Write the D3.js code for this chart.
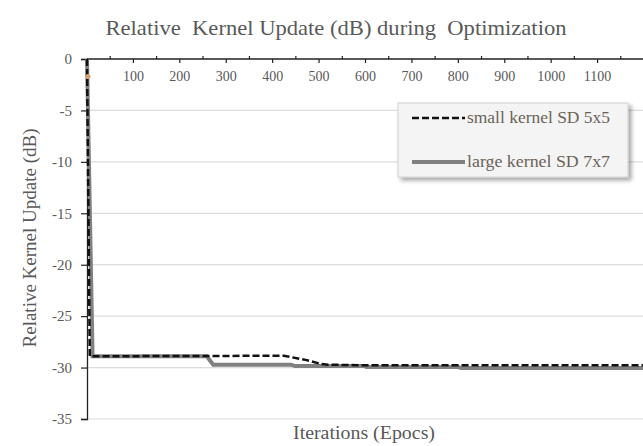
<!DOCTYPE html>
<html>
<head>
<meta charset="utf-8">
<script src="https://cdn.jsdelivr.net/npm/d3@7"></script>
<style>
  html, body { margin: 0; padding: 0; background: #fff; }
  svg { display: block; }
</style>
</head>
<body>
<svg id="chart" width="643" height="446" font-family="Liberation Serif"></svg>
<script>
// Relative kernel update (dB) per iteration for two kernel sizes
const smallIter = [0, 6, 424, 471, 504, 520, 600, 1200];
const smallDb   = [0, -28.9, -28.85, -29.25, -29.65, -29.72, -29.78, -29.78];
const largeIter = [0, 12, 258, 272, 440, 448, 598, 602, 800, 806, 1200];
const largeDb   = [0, -28.9, -28.9, -29.72, -29.72, -29.85, -29.85, -29.95, -29.95, -30.05, -30.05];
const startIter = [0];
const startDb   = [-1.7];

const xTicks = [100, 200, 300, 400, 500, 600, 700, 800, 900, 1000, 1100];
const yTicks = [0, -5, -10, -15, -20, -25, -30, -35];
const seriesNames = ["small kernel SD 5x5", "large kernel SD 7x7"];
const titleText = "Relative  Kernel Update (dB) during  Optimization";
const xTitle = "Iterations (Epocs)";
const yTitle = "Relative Kernel Update (dB)";

const serif = "Liberation Serif";
const textColor = "#595959";
const svg = d3.select("#chart");
const W = 643, H = 446;
const m = { left: 87, right: 0, top: 59, bottom: 27 };

const x = d3.scaleLinear().domain([0, 1200]).range([m.left, W - m.right + 1]);
const y = d3.scaleLinear().domain([0, -35]).range([m.top, H - m.bottom]);

// horizontal gridlines
svg.append("g")
  .selectAll("line")
  .data(yTicks.filter(d => d !== 0))
  .join("line")
  .attr("x1", m.left).attr("x2", W)
  .attr("y1", d => y(d)).attr("y2", d => y(d))
  .attr("stroke", "#dcdcdc").attr("stroke-width", 1.2);

// left axis
const yAxis = svg.append("g")
  .attr("transform", `translate(${m.left},0)`)
  .call(d3.axisLeft(y).tickValues(yTicks).tickSize(6).tickPadding(9).tickFormat(d => String(d)))
  .attr("font-family", serif)
  .attr("font-size", 15);
yAxis.select(".domain").attr("stroke", "#222").attr("stroke-width", 1.3);
yAxis.selectAll(".tick line").attr("stroke", "#222").attr("stroke-width", 1.2);
yAxis.selectAll("text").attr("fill", textColor);

// top axis at 0 dB with labels underneath
const xAxisG = svg.append("g")
  .attr("transform", `translate(0,${y(0)})`)
  .attr("font-family", serif);
xAxisG.append("line")
  .attr("x1", m.left).attr("x2", W)
  .attr("stroke", "#222").attr("stroke-width", 1.3);
const allTicks = d3.range(50, 1250, 50);
xAxisG.selectAll("line.tk")
  .data(allTicks)
  .join("line")
  .attr("class", "tk")
  .attr("x1", d => x(d)).attr("x2", d => x(d))
  .attr("y1", d => d % 100 === 0 ? 0 : -3)
  .attr("y2", d => d % 100 === 0 ? 4 : 0)
  .attr("stroke", "#222").attr("stroke-width", 1.2);
xAxisG.selectAll("text")
  .data(xTicks)
  .join("text")
  .attr("x", d => x(d))
  .attr("y", 22)
  .attr("text-anchor", "middle")
  .attr("font-size", 14)
  .attr("fill", textColor)
  .text(d => d);

// series lines
const line = d3.line().x(d => x(d[0])).y(d => y(d[1]));
const largeData = largeIter.map((v, i) => [v, largeDb[i]]);
const smallData = smallIter.map((v, i) => [v, smallDb[i]]);

svg.append("path")
  .datum(largeData)
  .attr("d", line)
  .attr("fill", "none")
  .attr("stroke", "#808080")
  .attr("stroke-width", 4);

svg.append("path")
  .datum(smallData)
  .attr("d", line)
  .attr("fill", "none")
  .attr("stroke", "#111")
  .attr("stroke-width", 2.5)
  .attr("stroke-dasharray", "7,3");

svg.selectAll("circle.start")
  .data(startIter.map((v, i) => [v, startDb[i]]))
  .join("circle")
  .attr("class", "start")
  .attr("cx", d => x(d[0]) + 1)
  .attr("cy", d => y(d[1]))
  .attr("r", 2.5)
  .attr("fill", "#d8a070");

// legend
const defs = svg.append("defs");
const flt = defs.append("filter").attr("id", "shadow")
  .attr("x", "-10%").attr("y", "-10%").attr("width", "130%").attr("height", "140%");
flt.append("feDropShadow").attr("dx", 3).attr("dy", 3).attr("stdDeviation", 2)
  .attr("flood-color", "#000").attr("flood-opacity", 0.35);

const lg = svg.append("g").attr("transform", "translate(398,103)");
lg.append("rect")
  .attr("width", 230).attr("height", 74)
  .attr("fill", "#f4f4f4")
  .attr("stroke", "#d0d0d0")
  .attr("filter", "url(#shadow)");
const entries = [
  { name: seriesNames[0], stroke: "#111", width: 2.5, dash: "7,3", y: 15 },
  { name: seriesNames[1], stroke: "#808080", width: 4, dash: null, y: 59 }
];
entries.forEach(e => {
  lg.append("line")
    .attr("x1", 14).attr("x2", 67)
    .attr("y1", e.y).attr("y2", e.y)
    .attr("stroke", e.stroke).attr("stroke-width", e.width)
    .attr("stroke-dasharray", e.dash);
  lg.append("text")
    .attr("x", 69).attr("y", e.y + 5)
    .attr("font-family", serif)
    .attr("font-size", 16)
    .attr("textLength", 143)
    .attr("lengthAdjust", "spacingAndGlyphs")
    .attr("fill", "#6b6257")
    .text(e.name);
});

// titles
svg.append("text")
  .attr("x", 336).attr("y", 35)
  .attr("text-anchor", "middle")
  .attr("font-family", serif)
  .attr("font-size", 21)
  .attr("fill", textColor)
  .attr("textLength", 461)
  .attr("lengthAdjust", "spacingAndGlyphs")
  .style("white-space", "pre")
  .text(titleText);

svg.append("text")
  .attr("x", 364).attr("y", 439)
  .attr("text-anchor", "middle")
  .attr("font-family", serif)
  .attr("font-size", 18)
  .attr("fill", textColor)
  .attr("textLength", 142)
  .attr("lengthAdjust", "spacingAndGlyphs")
  .text(xTitle);

svg.append("text")
  .attr("transform", "translate(36,238) rotate(-90)")
  .attr("text-anchor", "middle")
  .attr("font-family", serif)
  .attr("font-size", 19)
  .attr("fill", textColor)
  .text(yTitle);
</script>
</body>
</html>
